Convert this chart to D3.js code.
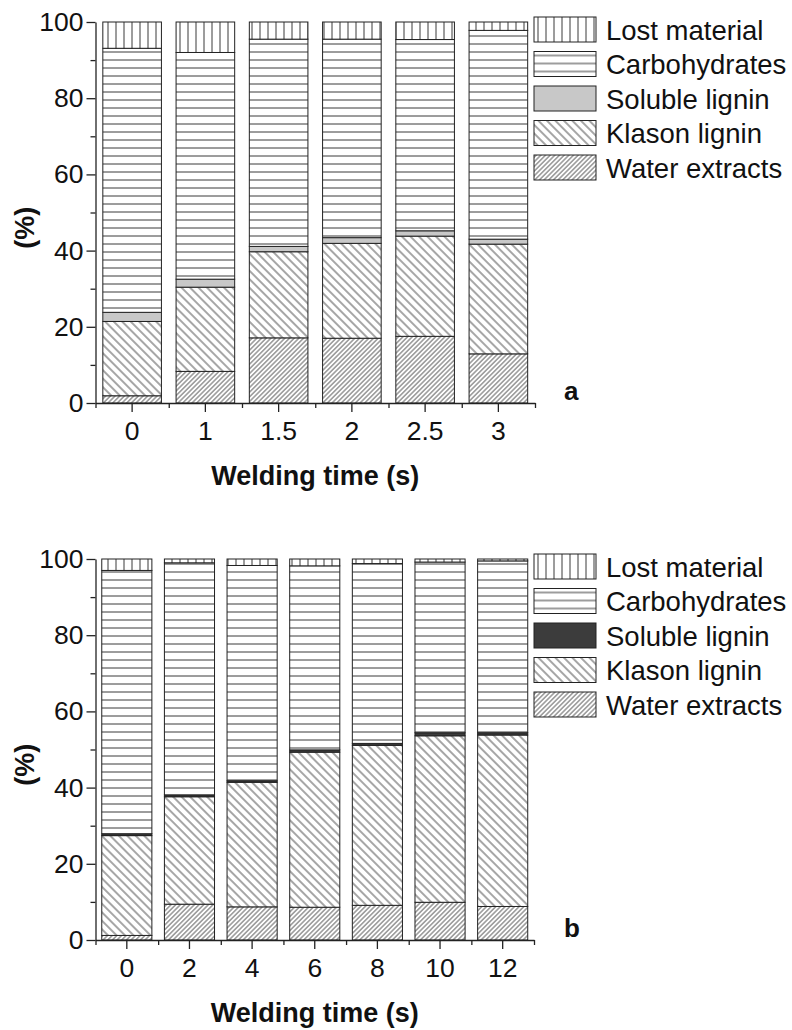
<!DOCTYPE html>
<html>
<head>
<meta charset="utf-8">
<script src="https://cdn.jsdelivr.net/npm/d3@7"></script>
<style>
  html, body { margin: 0; padding: 0; background: #fff; }
  svg { display: block; }
  text { font-family: "Liberation Sans", Arial, sans-serif; fill: #111; }
</style>
</head>
<body>
<svg id="chart" width="792" height="1030"></svg>
<script>
// ---------- data (panel a) ----------
const catsA = ["0", "1", "1.5", "2", "2.5", "3"];
const waterA   = [1.9, 8.3, 17.1, 17.0, 17.5, 12.9];
const klasonA  = [19.5, 22.1, 22.6, 24.9, 26.3, 28.8];
const solubleA = [2.4, 2.1, 1.4, 1.5, 1.4, 1.3];
const carbsA   = [69.3, 59.5, 54.4, 52.1, 50.2, 54.8];
const lostA    = [6.9, 8.0, 4.5, 4.5, 4.6, 2.2];

// ---------- data (panel b) ----------
const catsB = ["0", "2", "4", "6", "8", "10", "12"];
const waterB   = [1.2, 9.4, 8.7, 8.6, 9.1, 9.9, 8.8];
const klasonB  = [26.2, 28.2, 32.7, 40.7, 42.0, 43.7, 45.0];
const solubleB = [0.5, 0.5, 0.4, 0.6, 0.5, 0.8, 0.6];
const carbsB   = [69.1, 60.9, 56.5, 48.3, 47.2, 44.8, 45.1];
const lostB    = [3.0, 1.0, 1.7, 1.8, 1.2, 0.8, 0.5];

const seriesKeys = ["water", "klason", "soluble", "carbs", "lost"];
const legendLabels = ["Lost material", "Carbohydrates", "Soluble lignin", "Klason lignin", "Water extracts"];
const legendKeys = ["lost", "carbs", "soluble", "klason", "water"];
const yMajor = [0, 20, 40, 60, 80, 100];
const yMinor = [10, 30, 50, 70, 90];

const svg = d3.select("#chart");
const defs = svg.append("defs");
const lineCol = "#3a3a3a";

function linePattern(id, size, angle, sw) {
  const p = defs.append("pattern").attr("id", id)
    .attr("patternUnits", "userSpaceOnUse")
    .attr("width", size).attr("height", size);
  if (angle !== null) p.attr("patternTransform", `rotate(${angle})`);
  p.append("rect").attr("width", size).attr("height", size).attr("fill", "#fff");
  p.append("line").attr("x1", size / 2).attr("x2", size / 2)
    .attr("y1", 0).attr("y2", size)
    .attr("stroke", lineCol).attr("stroke-width", sw);
  return p;
}
linePattern("pLost", 8, null, 1);
linePattern("pCarbs", 8, 90, 1);
linePattern("pKlason", 6, -45, 0.9);
linePattern("pWater", 3.3, 45, 0.8);

function fills(solColor) {
  return {
    lost: "url(#pLost)", carbs: "url(#pCarbs)", soluble: solColor,
    klason: "url(#pKlason)", water: "url(#pWater)"
  };
}

function panel(opts) {
  const {cats, water, klason, soluble, carbs, lost, x0, x1, yBottom, yTop, solColor, letter} = opts;
  const table = cats.map((c, i) => ({
    cat: c, water: water[i], klason: klason[i], soluble: soluble[i], carbs: carbs[i], lost: lost[i]
  }));
  const stack = d3.stack().keys(seriesKeys)(table);
  const x = d3.scaleBand().domain(cats).range([x0, x1]).paddingInner(0.2).paddingOuter(0.1);
  const y = d3.scaleLinear().domain([0, 100]).range([yBottom, yTop]);
  const fill = fills(solColor);
  const g = svg.append("g");

  stack.forEach(s => {
    g.append("g").selectAll("rect").data(s).join("rect")
      .attr("x", d => x(d.data.cat))
      .attr("width", x.bandwidth())
      .attr("y", d => y(d[1]))
      .attr("height", d => y(d[0]) - y(d[1]))
      .attr("fill", fill[s.key])
      .attr("stroke", "#222")
      .attr("stroke-width", 1);
  });

  const yAx = g.append("g").attr("transform", `translate(${x0},0)`)
    .call(d3.axisLeft(y).tickValues(yMajor).tickSize(9).tickSizeOuter(0).tickPadding(3));
  g.append("g").attr("transform", `translate(${x0},0)`)
    .call(d3.axisLeft(y).tickValues(yMinor).tickSize(5).tickSizeOuter(0).tickFormat(""))
    .select(".domain").remove();
  yAx.selectAll("text").attr("font-size", 26.5).attr("font-family", "Liberation Sans, Arial, sans-serif").attr("fill", "#111");

  const xAx = g.append("g").attr("transform", `translate(0,${yBottom})`)
    .call(d3.axisBottom(x).tickSize(9).tickSizeOuter(0).tickPadding(9.5));
  const xm = d3.scaleLinear().domain([0, cats.length]).range([x0, x1]);
  g.append("g").attr("transform", `translate(0,${yBottom})`)
    .call(d3.axisBottom(xm).tickValues(d3.range(cats.length + 1)).tickSize(5).tickSizeOuter(0).tickFormat(""))
    .select(".domain").remove();
  xAx.selectAll("text").attr("font-size", 26.5).attr("font-family", "Liberation Sans, Arial, sans-serif").attr("fill", "#111");

  g.selectAll(".domain, .tick line").attr("stroke", "#222").attr("stroke-width", 1.3);

  g.append("text").attr("x", (x0 + x1) / 2).attr("y", yBottom + 82)
    .attr("text-anchor", "middle").attr("font-size", 27).attr("font-weight", "bold")
    .text("Welding time (s)");
  g.append("text").attr("transform", `translate(34,${y(46)}) rotate(-90)`)
    .attr("text-anchor", "middle").attr("font-size", 27).attr("font-weight", "bold")
    .text("(%)");

  g.append("text").attr("x", 564).attr("y", yBottom - 3)
    .attr("font-size", 26).attr("font-weight", "bold").text(letter);

  const lg = g.append("g").attr("transform", `translate(534,${yTop - 5})`);
  legendKeys.forEach((k, i) => {
    const row = lg.append("g").attr("transform", `translate(0,${i * 34.5})`);
    row.append("rect").attr("x", 0).attr("y", 0).attr("width", 62).attr("height", 25)
      .attr("fill", fill[k]).attr("stroke", "#222").attr("stroke-width", 1);
    row.append("text").attr("x", 72).attr("y", 22.5).attr("font-size", 27.5)
      .text(legendLabels[i]);
  });
}

panel({cats: catsA, water: waterA, klason: klasonA, soluble: solubleA, carbs: carbsA, lost: lostA,
  x0: 95.5, x1: 535, yBottom: 403, yTop: 22, solColor: "#c8c8c8", letter: "a"});
panel({cats: catsB, water: waterB, klason: klasonB, soluble: solubleB, carbs: carbsB, lost: lostB,
  x0: 95.5, x1: 534, yBottom: 940, yTop: 559, solColor: "#3c3c3c", letter: "b"});
</script>
</body>
</html>
